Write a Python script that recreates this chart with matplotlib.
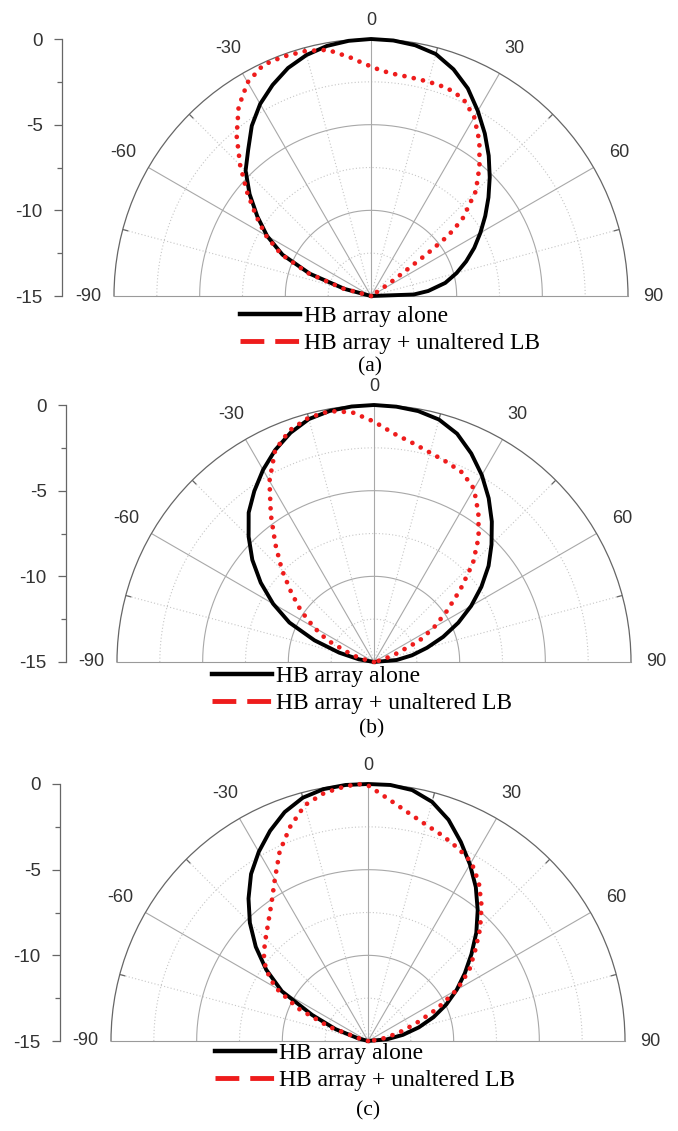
import numpy as np
import matplotlib
matplotlib.use("Agg")
import matplotlib.pyplot as plt
from matplotlib.lines import Line2D

W, H = 678, 1131          # canvas size in pixels (dpi 100)
R = 257                   # polar radius in pixels

# Normalised gain (dB) against elevation angle (deg) for each panel.
ang_a_alone = [-90, -80, -75, -70, -65, -60, -55, -50, -45, -40, -35, -30, -25, -20, -15, -10, -5, 0,
               5, 10, 15, 20, 25, 30, 35, 40, 45, 50, 55, 60, 65, 70, 75, 80, 85, 88, 90]
db_a_alone = [-15, -15, -13.4, -11.2, -9.3, -8.0, -6.9, -5.75, -4.65, -3.85, -2.87, -2.06, -1.41, -0.84,
              -0.44, -0.18, -0.05, 0, -0.03, -0.14, -0.38, -0.92, -1.63, -2.53, -3.42, -4.31, -5.2,
              -6.05, -6.86, -7.63, -8.35, -9.09, -9.83, -10.6, -11.65, -12.5, -15]
ang_a_lb = [-90, -80, -75, -70, -65, -60, -55, -50, -45, -40, -35, -30, -25, -20, -15, -10, -5, -2, 0, 2,
            5, 10, 15, 20, 25, 30, 35, 40, 45, 50, 52, 53, 54, 55, 56, 57, 90]
db_a_lb = [-15, -15, -13.3, -11.1, -9.2, -7.9, -6.8, -5.55, -4.2, -2.8, -1.53, -0.6, -0.12, -0.12, -0.2,
           -0.41, -1.02, -1.4, -1.6, -1.78, -1.95, -2.03, -2.05, -2.07, -2.28, -2.95, -3.97, -5.15,
           -6.35, -8.05, -9.3, -10.8, -12.6, -13.5, -14.3, -15, -15]

ang_b_alone = list(range(-90, 91, 5))
db_b_alone = [-15, -15, -14.1, -12.9, -11.3, -9.55, -8.2, -6.93, -5.73, -4.65, -3.62, -2.82, -2.05, -1.35,
              -0.76, -0.32, -0.12, -0.03, 0, -0.04, -0.13, -0.35, -0.82, -1.57, -2.41, -3.33, -4.3,
              -5.3, -6.27, -7.35, -8.45, -9.57, -10.7, -11.8, -12.75, -13.67, -15]
ang_b_lb = [-90, -78, -75, -70, -65, -60, -55, -50, -45, -40, -35, -30, -25, -20, -15, -10, -5, 0,
            5, 10, 15, 20, 25, 30, 35, 40, 45, 50, 55, 60, 65, 70, 75, 78, 90]
db_b_lb = [-15, -15, -14.1, -13.4, -12.0, -10.95, -9.8, -8.7, -7.4, -6.05, -4.5, -2.8, -1.35, -0.61,
           -0.24, -0.13, -0.37, -0.97, -1.62, -2.02, -2.35, -2.58, -2.8, -3.33, -4.38, -5.5, -6.83,
           -8.42, -9.8, -10.95, -12.1, -13.7, -14.5, -15, -15]

ang_c_alone = list(range(-90, 91, 5))
db_c_alone = [-15, -15, -15, -14.4, -13.0, -11.4, -9.2, -7.75, -6.45, -5.25, -4.15, -3.1, -2.25, -1.47,
              -0.78, -0.3, -0.07, 0, 0, 0, -0.13, -0.55, -1.26, -2.18, -3.1, -4.03, -5.04, -6.06,
              -7.12, -8.1, -9.02, -9.96, -10.93, -11.93, -12.93, -13.9, -15]
ang_c_lb = [-90, -78, -75, -70, -65, -60, -55, -50, -45, -40, -35, -30, -25, -20, -15, -10, -5, -2, 0,
            5, 10, 15, 20, 25, 30, 35, 40, 45, 50, 55, 60, 65, 70, 75, 80, 85, 90]
db_c_lb = [-15, -15, -14.6, -12.6, -10.5, -8.75, -7.72, -7.05, -6.55, -5.95, -5.18, -4.12, -2.8, -1.7,
           -0.75, -0.3, -0.07, 0, -0.08, -0.85, -1.47, -1.93, -2.25, -2.58, -2.94, -3.72, -4.69,
           -5.75, -6.85, -7.78, -9.0, -10.55, -12.05, -13.15, -14.0, -14.7, -15]

series_labels = ["HB array alone", "HB array + unaltered LB"]
r_ticks = [0, -5, -10, -15]
r_minor = [-2.5, -7.5, -12.5]
theta_ticks = [-90, -60, -30, 0, 30, 60, 90]

plt.rcParams["font.family"] = ["Liberation Sans", "DejaVu Sans"]

FRAME = "#666666"
GRID_SOLID = "#a8a8a8"
GRID_DOT = "#c6c6c6"
TEXT = "#333333"
RED = "#ee1c1c"
LEGEND_FONT = {"family": "Liberation Serif", "size": 17}
CAPTION_FONT = {"family": "Liberation Serif", "size": 15.5}


def px_rect(x0, y_top, w, h):
    return [x0 / W, 1 - (y_top + h) / H, w / W, h / H]


def label_offset(a):
    # distance (dB beyond the rim) of the angle labels
    if a == 0:
        return 1.1
    if abs(a) == 90:
        return 1.5
    return 1.7


def draw_panel(fig, cx, cy, axis_x, alone, lb, legend_xy, caption, caption_xy):
    # A half-disc polar axes sits vertically centred in a square box,
    # so the box spans from 1.5 R above the pole to 0.5 R below it.
    ax = fig.add_axes(px_rect(cx - R, cy - 1.5 * R, 2 * R, 2 * R), projection="polar")
    ax.set_theta_zero_location("N")
    ax.set_theta_direction(-1)
    ax.set_thetamin(-90)
    ax.set_thetamax(90)
    ax.set_rlim(-15, 0)
    ax.set_xticks([])
    ax.set_yticks([])
    ax.grid(False)
    ax.spines["polar"].set_color(FRAME)
    ax.spines["polar"].set_linewidth(0.9)
    for side in ("start", "end"):
        ax.spines[side].set_color("#9a9a9a")
        ax.spines[side].set_linewidth(0.8)
    ax.spines["inner"].set_visible(False)

    # rings: solid every 5 dB, dotted in between
    arc = np.linspace(-np.pi / 2, np.pi / 2, 400)
    for r in r_minor:
        ax.plot(arc, np.full_like(arc, r), color=GRID_DOT, lw=0.8, ls=(0, (1, 2)))
    for r in (-10, -5):
        ax.plot(arc, np.full_like(arc, r), color=GRID_SOLID, lw=0.8)
    # spokes: solid every 30 deg, dotted at the 15 deg midpoints
    for a in (-75, -45, -15, 15, 45, 75):
        t = np.deg2rad(a)
        ax.plot([t, t], [-15, 0], color=GRID_DOT, lw=0.8, ls=(0, (1, 2)))
        ax.plot([t, t], [0, -0.3], color=FRAME, lw=0.9)
    for a in (-60, -30, 0, 30, 60):
        t = np.deg2rad(a)
        ax.plot([t, t], [-15, 0], color=GRID_SOLID, lw=0.8)
    for a in theta_ticks:
        ax.text(np.deg2rad(a), label_offset(a), f"{a}", ha="center", va="center",
                fontsize=13, color=TEXT)

    ax.plot(np.deg2rad(alone[0]), alone[1], color="black", lw=2.8,
            solid_joinstyle="round", clip_on=False, zorder=5)
    ax.plot(np.deg2rad(lb[0]), lb[1], color=RED, lw=3.4, ls=(0, (0.01, 2.0)),
            dash_capstyle="round", clip_on=False, zorder=6)

    # dB scale drawn as a separate vertical axis on the left
    ra = fig.add_axes(px_rect(axis_x, cy - R, 0.5, R))
    ra.patch.set_visible(False)
    ra.set_ylim(-15, 0)
    ra.set_xticks([])
    for side in ("top", "right", "bottom"):
        ra.spines[side].set_visible(False)
    ra.spines["left"].set_color(FRAME)
    ra.spines["left"].set_linewidth(0.9)
    ra.set_yticks(r_ticks)
    ra.set_yticklabels([f"{v}" for v in r_ticks])
    ra.set_yticks(r_minor, minor=True)
    ra.tick_params(axis="y", which="major", length=6, width=0.9, color=FRAME,
                   labelsize=13.5, labelcolor=TEXT, pad=8)
    ra.tick_params(axis="y", which="minor", length=3.5, width=0.9, color=FRAME)

    handles = [
        Line2D([], [], color="black", lw=3.2),
        Line2D([], [], color=RED, lw=3.5, ls=(0, (4.9, 2.25)), dash_capstyle="butt"),
    ]
    fig.legend(handles, series_labels, loc="center left",
               bbox_to_anchor=(legend_xy[0] / W, 1 - legend_xy[1] / H),
               frameon=False, prop=LEGEND_FONT, handlelength=2.55, handletextpad=0.15,
               labelspacing=0.22, borderpad=0, borderaxespad=0)
    fig.text(caption_xy[0] / W, 1 - caption_xy[1] / H, caption, ha="center",
             va="center", **CAPTION_FONT)


fig = plt.figure(figsize=(W / 100, H / 100), dpi=100)
fig.patch.set_facecolor("white")

draw_panel(fig, 371, 296, 62, (ang_a_alone, db_a_alone), (ang_a_lb, db_a_lb),
           (240, 330), "(a)", (370, 367))
draw_panel(fig, 374, 662, 66, (ang_b_alone, db_b_alone), (ang_b_lb, db_b_lb),
           (212, 690), "(b)", (372, 729))
draw_panel(fig, 368, 1041, 60, (ang_c_alone, db_c_alone), (ang_c_lb, db_c_lb),
           (215, 1067), "(c)", (368, 1111))

fig.savefig("out.png", dpi=100)
